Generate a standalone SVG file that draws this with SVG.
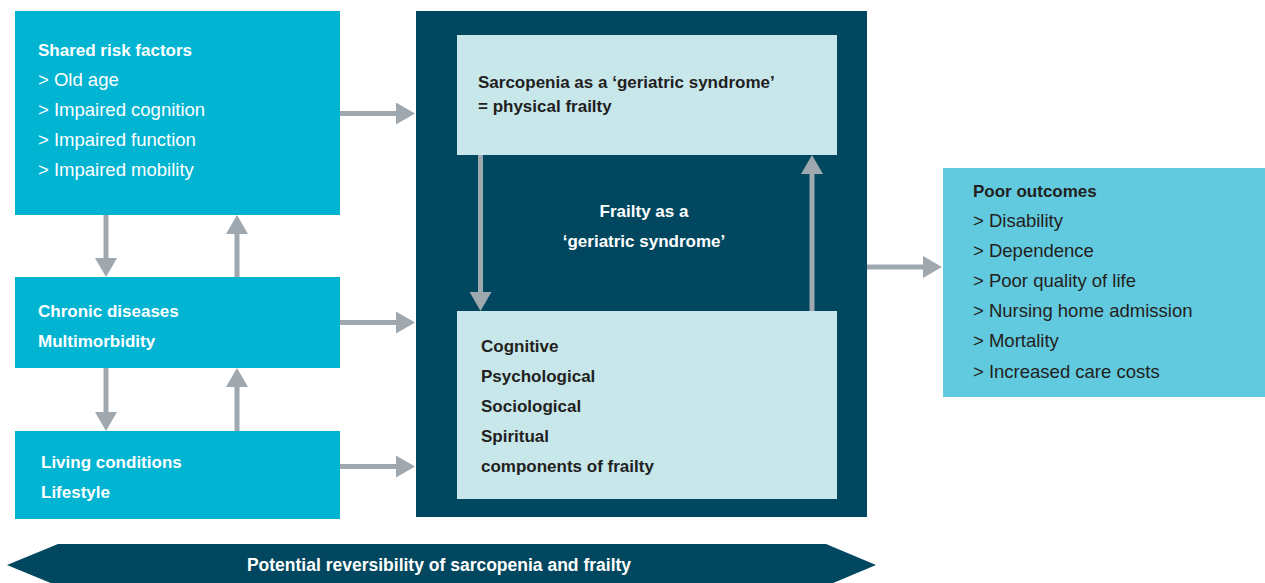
<svg xmlns="http://www.w3.org/2000/svg" width="1265" height="583" viewBox="0 0 1265 583">
  <style>
    text { font-family: "Liberation Sans", Arial, sans-serif; font-size: 18.5px; }
    .b { font-weight: bold; font-size: 17px; }
    .w { fill: #ffffff; }
    .d { fill: #231f20; }
    .cyan { fill: #00b4d2; }
    .dark { fill: #00475f; }
    .light { fill: #c7e7eb; }
    .sky { fill: #62cadf; }
    .conn line { stroke: #a0a8af; stroke-width: 5; marker-end: url(#head); }
  </style>
  <defs>
    <marker id="head" viewBox="0 0 19 22" refX="1" refY="11" markerWidth="19" markerHeight="22" markerUnits="userSpaceOnUse" orient="auto">
      <path d="M0,0 L19,11 L0,22 Z" fill="#a0a8af"/>
    </marker>
  </defs>

  <rect width="1265" height="583" fill="#ffffff"/>

  <!-- left column -->
  <g id="risk-factors">
    <rect class="cyan" x="15" y="11" width="325" height="204"/>
    <text class="b w" x="38" y="56">Shared risk factors</text>
    <text class="w" x="38" y="86">&gt; Old age</text>
    <text class="w" x="38" y="116">&gt; Impaired cognition</text>
    <text class="w" x="38" y="146">&gt; Impaired function</text>
    <text class="w" x="38" y="176">&gt; Impaired mobility</text>
  </g>
  <g id="chronic-diseases">
    <rect class="cyan" x="15" y="277" width="325" height="91"/>
    <text class="b w" x="38" y="317">Chronic diseases</text>
    <text class="b w" x="38" y="347">Multimorbidity</text>
  </g>
  <g id="living-conditions">
    <rect class="cyan" x="15" y="431" width="325" height="88"/>
    <text class="b w" x="41" y="468">Living conditions</text>
    <text class="b w" x="41" y="498">Lifestyle</text>
  </g>

  <!-- central frailty block -->
  <g id="frailty">
    <rect class="dark" x="416" y="11" width="451" height="506"/>
    <text class="b w" x="644" y="217" text-anchor="middle">Frailty as a</text>
    <text class="b w" x="644" y="247" text-anchor="middle">‘geriatric syndrome’</text>
  </g>
  <g id="sarcopenia">
    <rect class="light" x="457" y="35" width="380" height="120"/>
    <text class="b d" x="478" y="88">Sarcopenia as a ‘geriatric syndrome’</text>
    <text class="b d" x="478" y="112">= physical frailty</text>
  </g>
  <g id="components">
    <rect class="light" x="457" y="311" width="380" height="188"/>
    <text class="b d" x="481" y="352">Cognitive</text>
    <text class="b d" x="481" y="382">Psychological</text>
    <text class="b d" x="481" y="412">Sociological</text>
    <text class="b d" x="481" y="442">Spiritual</text>
    <text class="b d" x="481" y="472">components of frailty</text>
  </g>

  <!-- outcomes -->
  <g id="outcomes">
    <rect class="sky" x="943" y="168" width="322" height="229"/>
    <text class="b d" x="973" y="197">Poor outcomes</text>
    <text class="d" x="973" y="227">&gt; Disability</text>
    <text class="d" x="973" y="257">&gt; Dependence</text>
    <text class="d" x="973" y="287">&gt; Poor quality of life</text>
    <text class="d" x="973" y="317">&gt; Nursing home admission</text>
    <text class="d" x="973" y="347">&gt; Mortality</text>
    <text class="d" x="973" y="378">&gt; Increased care costs</text>
  </g>

  <!-- reversibility band -->
  <g id="reversibility">
    <polygon class="dark" points="7,565 58,544 826,544 876,565 826,586 58,586"/>
    <text class="b w" x="439" y="571" text-anchor="middle" style="font-size:17.5px">Potential reversibility of sarcopenia and frailty</text>
  </g>

  <!-- connectors -->
  <g class="conn" id="connectors">
    <line x1="340" y1="113.5" x2="397" y2="113.5"/>
    <line x1="340" y1="322.5" x2="397" y2="322.5"/>
    <line x1="340" y1="466.5" x2="397" y2="466.5"/>
    <line x1="106" y1="215" x2="106" y2="259"/>
    <line x1="237" y1="277" x2="237" y2="233"/>
    <line x1="106" y1="368" x2="106" y2="413"/>
    <line x1="237" y1="431" x2="237" y2="386"/>
    <line x1="480.5" y1="155" x2="480.5" y2="293"/>
    <line x1="812" y1="311" x2="812" y2="173"/>
    <line x1="867" y1="267" x2="924" y2="267"/>
  </g>
</svg>
